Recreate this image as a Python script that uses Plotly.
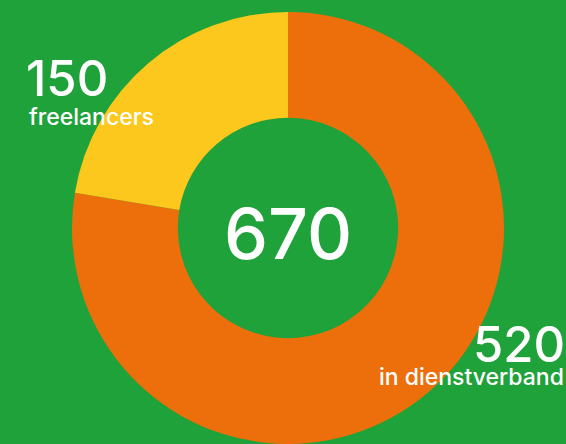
import plotly.graph_objects as go

labels = ["in dienstverband", "freelancers"]
values = [520, 150]
colors = ["#ed6f0b", "#fdc81d"]
total = sum(values)

W, H = 566, 444
fig = go.Figure(go.Pie(
    labels=labels, values=values, hole=0.51, sort=False, direction="clockwise",
    rotation=0, marker=dict(colors=colors, line=dict(width=0)),
    textinfo="none", hoverinfo="skip", showlegend=False,
    domain=dict(x=[72 / W, 504 / W], y=[0, 432 / H]),
))

font = "Inter, Open Sans, sans-serif"
ann = []
ann.append(dict(x=288 / W, y=1 - 234 / H, xref="paper", yref="paper", text=str(total),
                showarrow=False, font=dict(family=font, size=70, color="white", weight=500),
                xanchor="center", yanchor="middle"))
# freelancers (left)
ann.append(dict(x=24 / W, y=1 - 79 / H, xref="paper", yref="paper", text=str(values[1]),
                showarrow=False, font=dict(family=font, size=49, color="white", weight=500),
                xanchor="left", yanchor="middle"))
ann.append(dict(x=27 / W, y=1 - 117 / H, xref="paper", yref="paper", text=labels[1],
                showarrow=False, font=dict(family=font, size=23, color="white", weight=500),
                xanchor="left", yanchor="middle"))
# in dienstverband (right)
ann.append(dict(x=567 / W, y=1 - 344 / H, xref="paper", yref="paper", text=str(values[0]),
                showarrow=False, font=dict(family=font, size=49, color="white", weight=500),
                xanchor="right", yanchor="middle"))
ann.append(dict(x=566 / W, y=1 - 377 / H, xref="paper", yref="paper", text=labels[0],
                showarrow=False, font=dict(family=font, size=23, color="white", weight=500),
                xanchor="right", yanchor="middle"))

fig.update_layout(
    width=W, height=H, margin=dict(l=0, r=0, t=0, b=0),
    paper_bgcolor="#1fa23a", plot_bgcolor="#1fa23a",
    annotations=ann,
)
fig.write_html("out.html", config={"displayModeBar": False},
               post_script="document.body.style.margin='0px';")
